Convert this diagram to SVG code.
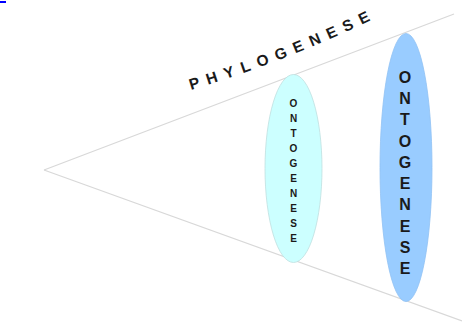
<svg xmlns="http://www.w3.org/2000/svg" width="462" height="325" viewBox="0 0 462 325">
<defs>
<path id="arc" d="M 191,90 Q 290,60 380,16"/>
</defs>
<style>
.line{stroke:#d8d8d8;stroke-width:1.2;fill:none}
.t{font-family:"Liberation Sans",Arial,sans-serif;font-weight:bold;fill:#1a1a1a;text-anchor:middle}
.p{font-family:"Liberation Sans",Arial,sans-serif;font-weight:bold;fill:#1a1a1a;font-size:15.5px;letter-spacing:7.5px}
</style>
<rect x="0" y="0" width="462" height="325" fill="#fff"/>
<rect x="0" y="1" width="6" height="2" fill="#0000ff"/>
<g id="connectors">
<line class="line" x1="44" y1="170" x2="454" y2="14"/>
<line class="line" x1="44" y1="170" x2="462" y2="321"/>
</g>
<g id="phylogenese">
<text class="p"><textPath href="#arc">PHYLOGENESE</textPath></text>
</g>
<g id="ontogenese-small">
<ellipse cx="293.5" cy="168.5" rx="28.5" ry="94" fill="#ccffff" stroke="#bfe0e0" stroke-width="0.8"/>
<text class="t" font-size="10"><tspan x="293.5" y="107">O</tspan><tspan x="293.5" y="122">N</tspan><tspan x="293.5" y="137">T</tspan><tspan x="293.5" y="152">O</tspan><tspan x="293.5" y="167">G</tspan><tspan x="293.5" y="182">E</tspan><tspan x="293.5" y="197">N</tspan><tspan x="293.5" y="212">E</tspan><tspan x="293.5" y="227">S</tspan><tspan x="293.5" y="242">E</tspan></text>
</g>
<g id="ontogenese-large">
<ellipse cx="406" cy="167.5" rx="26" ry="134" fill="#99ccff" stroke="#90c2f4" stroke-width="0.8"/>
<text class="t" font-size="16"><tspan x="405" y="83">O</tspan><tspan x="405" y="104">N</tspan><tspan x="405" y="125">T</tspan><tspan x="405" y="147">O</tspan><tspan x="405" y="168">G</tspan><tspan x="405" y="189">E</tspan><tspan x="405" y="210">N</tspan><tspan x="405" y="232">E</tspan><tspan x="405" y="253">S</tspan><tspan x="405" y="274">E</tspan></text>
</g>
</svg>
